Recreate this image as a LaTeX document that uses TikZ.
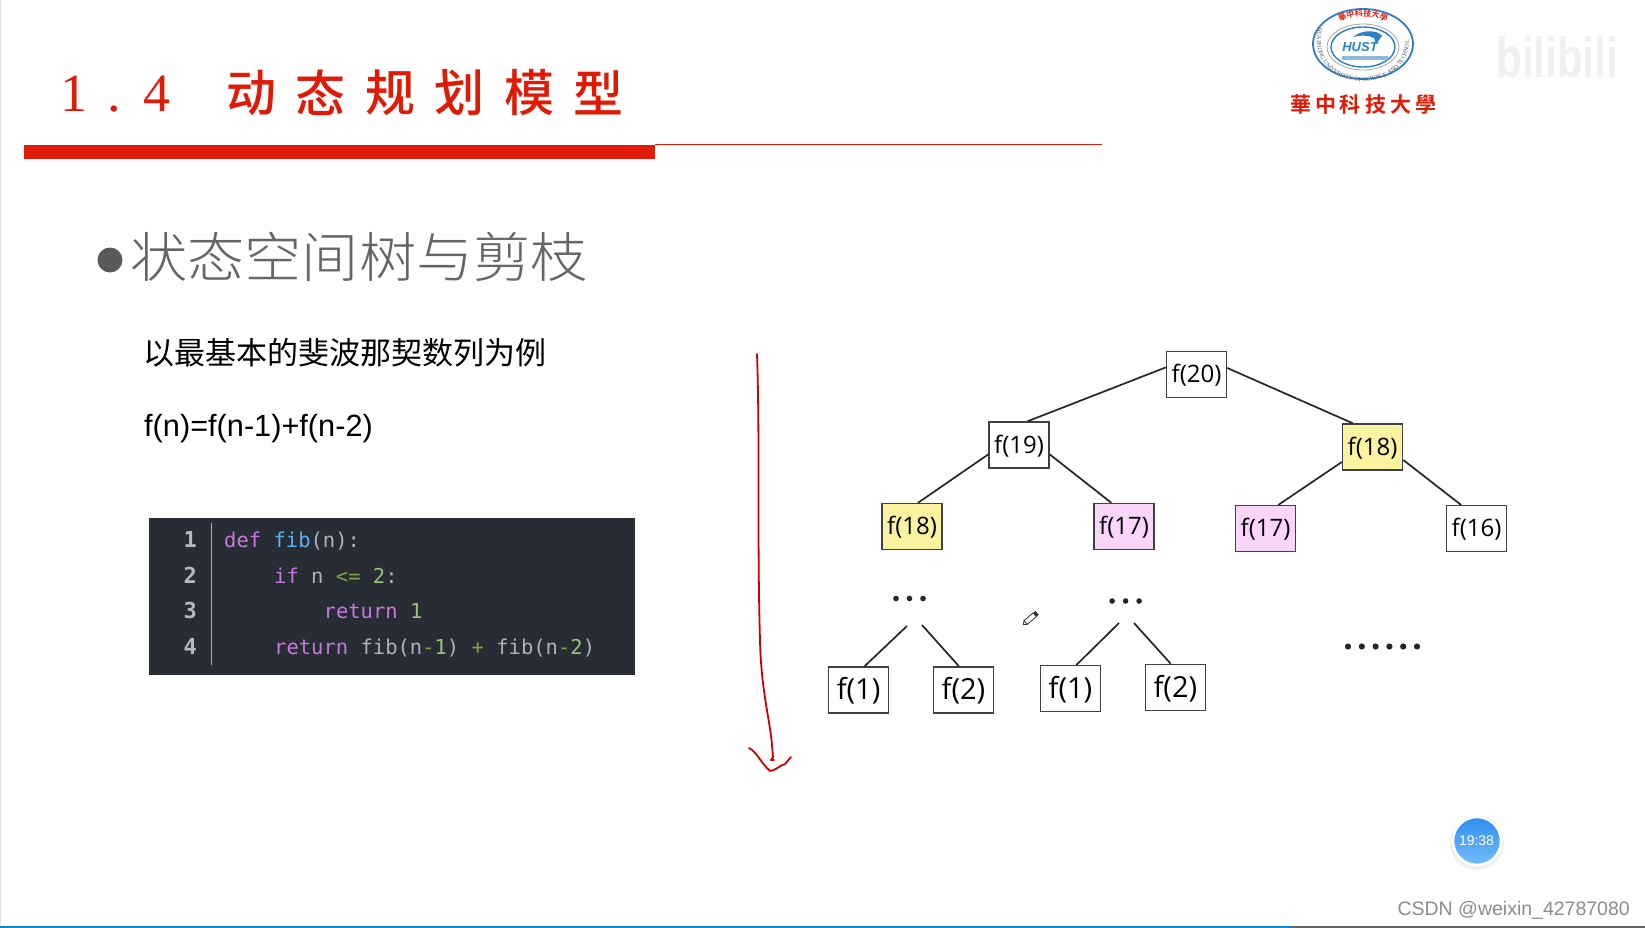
\documentclass[tikz,border=0pt]{standalone}
\usepackage{fontspec}
\usetikzlibrary{decorations.text}
\setmainfont{Liberation Sans}
\newfontfamily\cjk{Noto Sans CJK SC}
\newfontfamily\cjkbold{Noto Sans CJK SC Bold}
\newfontfamily\cjkmid{Noto Sans CJK SC Medium}
\newfontfamily\cjkthin{Noto Sans CJK SC Light}
\newfontfamily\treefont{Open Sans}
\newfontfamily\codefont{DejaVu Sans Mono}
\newfontfamily\titlefont{Liberation Serif}
\definecolor{slidered}{HTML}{DF1A06}
\definecolor{codebg}{HTML}{282C34}
\definecolor{codegray}{HTML}{ABB2BF}
\definecolor{codepurple}{HTML}{C678DD}
\definecolor{codeblue}{HTML}{61AFEF}
\definecolor{codegreen}{HTML}{98C379}
\definecolor{codeop}{HTML}{7FA640}
\definecolor{hlyellow}{HTML}{FBF3A0}
\definecolor{hlpink}{HTML}{F9D5F9}
\definecolor{logoblue}{HTML}{2F7FC8}
\definecolor{timertop}{HTML}{2F8CF0}
\definecolor{timerlow}{HTML}{74BEFA}
\tikzset{
  fnbox/.style={draw=black!75, line width=1.5pt, fill=white, minimum width=60pt, minimum height=46pt, inner sep=0pt, text height=20pt, text depth=4pt, font=\treefont\fontsize{24}{24}\selectfont},
  fnbig/.style={fnbox, text height=24pt, text depth=5pt, font=\treefont\fontsize{29}{29}\selectfont},
  branch/.style={draw=black!85, line width=1.7pt},
  codeline/.style={anchor=base west, inner sep=0pt, text=codegray, font=\codefont\fontsize{20.5}{20.5}\selectfont},
  lineno/.style={anchor=base east, inner sep=0pt, text=codegray!90!white, font=\codefont\bfseries\fontsize{22}{22}\selectfont},
  titlechar/.style={inner sep=0pt, text=slidered, font=\cjkmid\fontsize{50}{50}\selectfont},
  titledigit/.style={anchor=base, inner sep=0pt, text=slidered, font=\titlefont\fontsize{54}{54}\selectfont},
  redpen/.style={draw=red!80!black, line width=1.8pt, line join=round, line cap=round}
}
\begin{document}
\begin{tikzpicture}[x=1pt, y=-1pt]
\useasboundingbox (0,0) rectangle (1645,928);
\fill[white] (0,0) rectangle (1645,928);
\draw[black!12, line width=1pt] (0.5,0) -- (0.5,925);
\fill[black!60] (0,926) rectangle (1645,928);
\fill[cyan!70!blue] (0,926) rectangle (1292,928);

% title
\node[titledigit] (t1) at (74,112) {1};
\node[titledigit] (t2) at (114,112) {.};
\node[titledigit] (t3) at (157,112) {4};
\foreach \i/\c in {0/动,1/态,2/规,3/划,4/模,5/型}
  \node[titlechar] (c\i) at (251+69.5*\i,93) {\c};
\fill[slidered] (24,145) rectangle (655,159);
\draw[slidered, line width=1.4pt] (655,144.5) -- (1102,144.5);

% logo
\draw[logoblue, line width=1.8pt, fill=white] (1363,44) ellipse (50pt and 35pt);
\draw[logoblue, line width=1.4pt] (1363,47) ellipse (32pt and 20pt);
\draw[black!35, line width=0.8pt] (1363,47) ellipse (36pt and 23pt);
\path[decorate, decoration={text along path, text align=center, text={|\cjkbold\fontsize{8}{8}\selectfont\color{slidered}|華中科技大學}}]
  (1327,35) .. controls (1340,10) and (1386,10) .. (1399,35);
\path[decorate, decoration={text along path, text align=center, text={|\titlefont\fontsize{6}{6}\selectfont\color{black!65}|HUAZHONG UNIVERSITY OF SCIENCE AND TECHNOLOGY}}]
  (1317,40) .. controls (1317,95) and (1409,95) .. (1409,40);
\fill[logoblue] (1353,37) .. controls (1362,29) and (1378,30) .. (1382,36) -- (1376,44) -- (1374,38) .. controls (1368,35) and (1360,35) .. (1353,37) -- cycle;
\node[inner sep=0pt, text=logoblue, font=\bfseries\itshape\fontsize{13}{13}\selectfont] (hust) at (1360,47) {HUST};
\fill[logoblue!55] (1342,56) rectangle (1388,60);
\node[inner sep=0pt, text=slidered, font=\cjkbold\fontsize{21}{21}\selectfont] (school) at (1363,105) {華\hspace{4pt}中\hspace{4pt}科\hspace{4pt}技\hspace{4pt}大\hspace{4pt}學};
\node[inner sep=0pt, text=black!6, yscale=1.35, font=\bfseries\fontsize{42}{42}\selectfont] (bili) at (1557,57) {bilibili};

% left column
\fill[black!65] (110,260) circle (12.5pt);
\node[anchor=west, inner sep=0pt, text=black!60, font=\cjkthin\fontsize{54}{54}\selectfont, xscale=1.06] (head) at (130,257) {状态空间树与剪枝};
\node[anchor=west, inner sep=0pt, font=\cjk\fontsize{31}{31}\selectfont] (intro) at (143,353) {以最基本的斐波那契数列为例};
\node[anchor=west, inner sep=0pt, font=\fontsize{30.7}{31}\selectfont] (recur) at (144,429) {f(n)=f(n-1)+f(n-2)};

% code
\fill[codebg] (149,518) rectangle (635,675);
\draw[codegray, line width=1pt] (211,523) -- (211,665);
\node[lineno] (n1) at (197,547) {1};
\node[lineno] (n2) at (197,583) {2};
\node[lineno] (n3) at (197,618.5) {3};
\node[lineno] (n4) at (197,654) {4};
\node[codeline] (l1) at (224,547) {\textcolor{codepurple}{def} \textcolor{codeblue}{fib}(n):};
\node[codeline] (l2) at (274,583) {\textcolor{codepurple}{if} n \textcolor{codeop}{<=} \textcolor{codegreen}{2}:};
\node[codeline] (l3) at (323.5,618.5) {\textcolor{codepurple}{return} \textcolor{codegreen}{1}};
\node[codeline] (l4) at (274,654) {\textcolor{codepurple}{return} fib(n\textcolor{codeop}{-}\textcolor{codegreen}{1}) \textcolor{codeop}{+} fib(n\textcolor{codeop}{-}\textcolor{codegreen}{2})};

% hand drawn arrow
\draw[redpen] (757,354) .. controls (760,440) and (757,540) .. (760,640) .. controls (761,690) and (770,720) .. (772,745) -- (773,757) -- (771,760) -- (774,760);
\draw[redpen] (749,748) .. controls (757,752) and (760,762) .. (770,771) .. controls (775,771) and (780,765) .. (785,764) -- (791,757);

% tree
\node[fnbox] (f20) at (1196.5,374.5) {f(20)};
\node[fnbox] (f19) at (1019,445) {f(19)};
\node[fnbox, fill=hlyellow] (f18r) at (1372.6,447) {f(18)};
\node[fnbox, fill=hlyellow] (f18l) at (912,526.6) {f(18)};
\node[fnbox, fill=hlpink] (f17l) at (1124,526.6) {f(17)};
\node[fnbox, fill=hlpink] (f17r) at (1265.6,528.7) {f(17)};
\node[fnbox] (f16) at (1476.5,528.7) {f(16)};
\node[fnbig] (f1a) at (858.6,690) {f(1)};
\node[fnbig] (f2a) at (963.5,690) {f(2)};
\node[fnbig] (f1b) at (1070.5,688.7) {f(1)};
\node[fnbig] (f2b) at (1175.4,687.6) {f(2)};

\foreach \k in {-1,0,1} {
  \fill[black!85] (909.5+\k*13.5,598.5) circle (2.8pt);
  \fill[black!85] (1125.6+\k*13.5,601) circle (2.8pt);
}
\foreach \k in {0,...,5}
  \fill[black!85] (1348+\k*13.8,646.5) circle (3.1pt);

\coordinate (gapa1) at (907,626);
\coordinate (gapa2) at (922,625);
\coordinate (gapb1) at (1119,623);
\coordinate (gapb2) at (1134,623);

\draw[branch] (f20.167) -- (f19.70);
\draw[branch] (f20.12) -- (f18r.130);
\draw[branch] (f19.197) -- (f18l.76);
\draw[branch] (f19.-17) -- (f17l.118);
\draw[branch] (f18r.206) -- (f17r.62);
\draw[branch] (f18r.-23) -- (f16.123);
\draw[branch] (gapa1) -- (f1a.76);
\draw[branch] (gapa2) -- (f2a.101);
\draw[branch] (gapb1) -- (f1b.76);
\draw[branch] (gapb2) -- (f2b.101);

% pen cursor
\begin{scope}[shift={(1031,618)}, rotate=40]
\draw[black!80, line width=0.8pt, fill=white] (-7,-2.5) rectangle (5,2.5);
\fill[black!80] (5,-2.5) rectangle (8,2.5);
\draw[black!80, line width=0.8pt] (-7,-2.5) -- (-10,0) -- (-7,2.5);
\end{scope}

% timer and mark
\fill[black!6] (1477,843) circle (27pt);
\shade[top color=timertop, bottom color=timerlow, draw=white, line width=2.5pt] (1477,841) circle (24pt);
\node[inner sep=0pt, text=white, font=\fontsize{14}{14}\selectfont] (timer) at (1476.5,841) {19:38};
\node[anchor=east, inner sep=0pt, text=black!45, font=\fontsize{19.5}{20}\selectfont] (mark) at (1630,910) {CSDN @weixin\_42787080};
\end{tikzpicture}
\end{document}
